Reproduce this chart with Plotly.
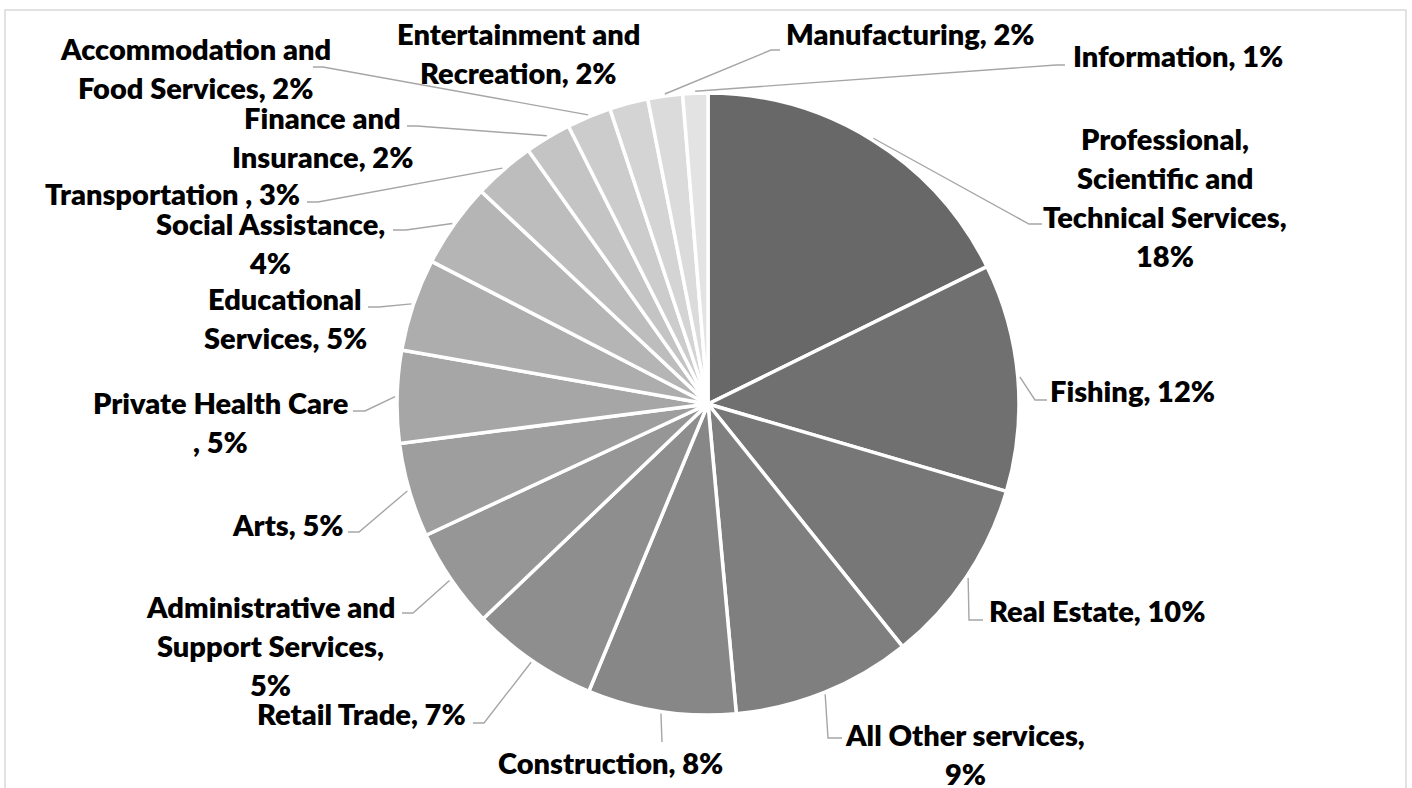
import math
import plotly.graph_objects as go

# ---------------- data ----------------
categories = [
    "Professional, Scientific and Technical Services",
    "Fishing",
    "Real Estate",
    "All Other services",
    "Construction",
    "Retail Trade",
    "Administrative and Support Services",
    "Arts",
    "Private Health Care ",
    "Educational Services",
    "Social Assistance",
    "Transportation ",
    "Finance and Insurance",
    "Accommodation and Food Services",
    "Entertainment and Recreation",
    "Manufacturing",
    "Information",
]
shares = [17.7, 11.8, 9.7, 9.3, 7.7, 6.6, 5.2, 4.9, 4.8, 4.8, 4.4, 3.2, 2.4, 2.3, 2.0, 1.8, 1.3]

# words per wrapped line of each label ("name, pct%")
wrap_words = [
    [1, 2, 2, 1], [2], [3], [3, 1], [2], [3], [2, 2, 1], [2], [3, 2],
    [1, 2], [2, 1], [3], [2, 2], [2, 3], [2, 2], [2], [2],
]

# ---------------- layout / style ----------------
W, H = 1412, 788
CX, CY, R = 708, 404, 311          # pie centre and radius in pixels
# label block centres (px)
label_pos = [
    (1165, 197), (1132, 390), (1097, 610), (965, 754), (610, 762),
    (361, 713), (270, 645), (287, 524), (221, 422), (285, 318),
    (270, 243), (172, 193), (322, 137), (195, 68), (518, 53),
    (910, 34), (1178, 56),
]
# leader elbow (x, y) and end of short horizontal tick (x); None = no leader
leaders = [
    (1029, 224, 1042), (1035, 400, 1047), (969, 620, 983), (828, 738, 842),
    (662, 742, 662), (484, 723, 473), (413, 613, 402), (359, 532, 348),
    (365, 411, 353), (379, 307, 368), (406, 230, 393), (318, 202, 307),
    (417, 126, 407), (323, 67, 313), None, (771, 50, 780), (1056, 65, 1065),
]
LINE_GAP = 39
FONT = "Lato, Roboto, sans-serif"
FONT_SIZE = 29

n = len(categories)
c0, c1 = 0x68, 0xE3
colors = []
for i in range(n):
    g = round(c0 + (c1 - c0) * i / (n - 1))
    colors.append(f"rgb({g},{g},{g})")


def px(x):
    return x / W


def py(y):
    return 1 - y / H


fig = go.Figure(
    go.Pie(
        labels=categories,
        values=shares,
        sort=False,
        direction="clockwise",
        rotation=0,
        textinfo="none",
        hoverinfo="label+percent",
        marker=dict(colors=colors, line=dict(color="white", width=3.5)),
        domain=dict(x=[px(CX - R), px(CX + R)], y=[py(CY + R + 3), py(CY - R - 3)]),
        showlegend=False,
    )
)

total = sum(shares)
annotations = []
shapes = []
cum = 0.0
for i, (name, v) in enumerate(zip(categories, shares)):
    pct = round(v / total * 100)
    words = f"{name}, {pct}%".split()
    lines, k = [], 0
    for cnt in wrap_words[i]:
        lines.append(" ".join(words[k:k + cnt]))
        k += cnt
    bx, by = label_pos[i]
    top = by - LINE_GAP * (len(lines) - 1) / 2
    for j, ln in enumerate(lines):
        annotations.append(dict(
            x=px(bx), y=py(top + j * LINE_GAP), xref="paper", yref="paper",
            text=ln, showarrow=False, xanchor="center", yanchor="middle",
            font=dict(family=FONT, size=FONT_SIZE, color="black", weight=800),
        ))
    # leader line from slice edge at mid-angle
    mid = 2 * math.pi * (cum + v / 2) / total
    cum += v
    if leaders[i] is not None:
        ex, ey, hx = leaders[i]
        sx = CX + (R + 2) * math.sin(mid)
        sy = CY - (R + 2) * math.cos(mid)
        path = f"M {px(sx)},{py(sy)} L {px(ex)},{py(ey)} L {px(hx)},{py(ey)}"
        shapes.append(dict(type="path", xref="paper", yref="paper", path=path,
                           line=dict(color="#a6a6a6", width=1.4)))

# chart area border
shapes.append(dict(type="rect", xref="paper", yref="paper",
                   x0=px(5), x1=px(1406), y0=-0.05, y1=py(10),
                   line=dict(color="#d9d9d9", width=1.5)))

fig.update_layout(
    width=W, height=H,
    margin=dict(l=0, r=0, t=0, b=0),
    paper_bgcolor="white", plot_bgcolor="white",
    annotations=annotations, shapes=shapes,
)

fig.write_html("out.html", config={"displayModeBar": False},
               post_script="document.body.style.margin='0px';")
